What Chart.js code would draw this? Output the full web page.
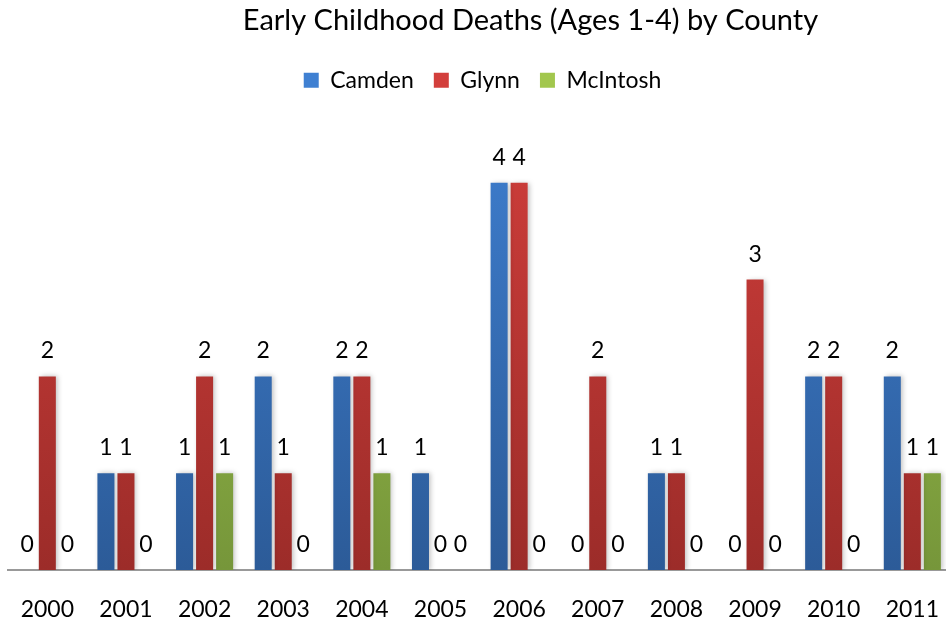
<!DOCTYPE html>
<html>
<head>
<meta charset="utf-8">
<script src="https://cdn.jsdelivr.net/npm/chart.js@4/dist/chart.umd.min.js"></script>
<style>
  html, body { margin: 0; padding: 0; background: #fff; overflow: hidden; }
</style>
</head>
<body>
<canvas id="chart" width="957" height="621"></canvas>
<script>
const years = ['2000', '2001', '2002', '2003', '2004', '2005', '2006', '2007', '2008', '2009', '2010', '2011'];
const camden = [0, 1, 1, 2, 2, 1, 4, 0, 1, 0, 2, 2];
const glynn = [2, 1, 2, 1, 2, 0, 4, 2, 1, 3, 2, 1];
const mcintosh = [0, 0, 1, 0, 1, 0, 0, 0, 0, 0, 0, 1];

const FONT = 'Lato, "Open Sans", sans-serif';

// vertical gradient, lighter on top, darker at the axis
function gradient(top, bottom) {
    return function (ctx) {
        const chart = ctx.chart;
        const area = chart.chartArea;
        if (!area) return top;
        const g = chart.ctx.createLinearGradient(0, area.top, 0, area.bottom);
        g.addColorStop(0, top);
        g.addColorStop(1, bottom);
        return g;
    };
}

// print each value above its bar
const valueLabels = {
    id: 'valueLabels',
    afterDatasetsDraw(chart) {
        const ctx = chart.ctx;
        ctx.save();
        ctx.font = '23px ' + FONT;
        ctx.fillStyle = '#000';
        ctx.textAlign = 'center';
        ctx.textBaseline = 'alphabetic';
        chart.data.datasets.forEach((ds, i) => {
            chart.getDatasetMeta(i).data.forEach((bar, j) => {
                ctx.fillText(String(ds.data[j]), bar.x, bar.y - 18);
            });
        });
        ctx.restore();
    }
};

// soft shadow behind the bars
const barShadow = {
    id: 'barShadow',
    beforeDatasetsDraw(chart) {
        chart.ctx.save();
        chart.ctx.shadowColor = 'rgba(0,0,0,0.25)';
        chart.ctx.shadowBlur = 5;
        chart.ctx.shadowOffsetX = 2;
    },
    afterDatasetsDraw(chart) {
        chart.ctx.restore();
    }
};

// legend height fixed, title nudged right like the original
const headerTweaks = {
    id: 'headerTweaks',
    beforeInit(chart) {
        const fit = chart.legend.fit;
        chart.legend.fit = function () {
            fit.bind(chart.legend)();
            this.height = 44;
        };
    },
    afterInit(chart) {
        const title = chart.titleBlock;
        const draw = title.draw;
        title.draw = function () {
            this.ctx.save();
            this.ctx.translate(48, 0);
            draw.call(this);
            this.ctx.restore();
        };
    }
};

const ctx = document.getElementById('chart').getContext('2d');
new Chart(ctx, {
    type: 'bar',
    data: {
        labels: years,
        datasets: [
            { label: 'Camden', data: camden, backgroundColor: gradient('#3f80d2', '#2c5b98') },
            { label: 'Glynn', data: glynn, backgroundColor: gradient('#d33f3c', '#9c2c29') },
            { label: 'McIntosh', data: mcintosh, backgroundColor: gradient('#a2c74e', '#76963a') }
        ]
    },
    options: {
        responsive: false,
        animation: false,
        categoryPercentage: 0.764,
        barPercentage: 0.85,
        layout: { padding: { left: 8, right: 0, top: 3, bottom: 0 } },
        plugins: {
            title: {
                display: true,
                text: 'Early Childhood Deaths (Ages 1-4) by County',
                color: '#000',
                font: { family: FONT, size: 29, weight: 'normal' },
                padding: { top: 0, bottom: 11 }
            },
            legend: {
                display: true,
                labels: {
                    color: '#000',
                    font: { family: FONT, size: 23 },
                    boxWidth: 15,
                    boxHeight: 15,
                    padding: 20
                }
            },
            tooltip: { enabled: false }
        },
        scales: {
            x: {
                grid: { display: false },
                border: { display: true, color: '#999', width: 2 },
                ticks: { color: '#000', font: { family: FONT, size: 23 }, padding: 18 },
                afterFit(scale) { scale.height = 51; }
            },
            y: {
                display: false,
                min: 0,
                max: 4.93
            }
        }
    },
    plugins: [headerTweaks, barShadow, valueLabels]
});
</script>
</body>
</html>
